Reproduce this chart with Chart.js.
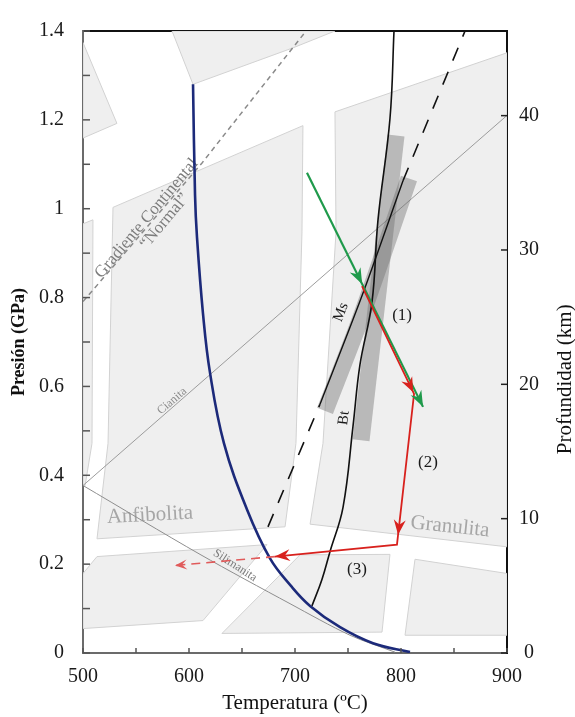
<!DOCTYPE html>
<html>
<head>
<meta charset="utf-8">
<script src="https://cdn.jsdelivr.net/npm/chart.js@4/dist/chart.umd.min.js"></script>
<style>
  html, body { margin: 0; padding: 0; background: #fff; }
  canvas { display: block; }
</style>
</head>
<body>
<canvas id="ptChart" width="575" height="717"></canvas>
<script>
const SERIF = "'Liberation Serif', 'DejaVu Serif', serif";
Chart.defaults.font.family = SERIF;
Chart.defaults.color = '#1a1a1a';

// axis limits
const tempRange = [500, 900];
const presRange = [0, 1.4];
const depthMax = 46.3; // km at 1.4 GPa

// curves, each point is [T (ºC), P (GPa)]
const blueCurve = [[603.8, 1.28], [605.7, 1.03], [607.5, 0.937], [613.2, 0.764], [619.8, 0.631], [633, 0.472],
  [654.7, 0.323], [676.4, 0.213], [696.2, 0.151], [714.2, 0.106], [742.5, 0.058], [773.6, 0.022], [808.5, 0.002]];
const btCurve = [[793.4, 1.4], [789.6, 1.203], [778.3, 0.975], [772.6, 0.789], [761.3, 0.649], [754.7, 0.51],
  [745.3, 0.328], [733, 0.228], [725.5, 0.166], [716, 0.106]];
const msSolid = [[723.6, 0.56], [763.2, 0.804], [801.9, 1.063]];
const msDashLow = [[674.5, 0.284], [723.6, 0.56]];
const msDashHigh = [[801.9, 1.063], [860.4, 1.4]];
const btBand = [[795.3, 1.165], [762.3, 0.479]];
const msBand = [[807.5, 1.068], [761.3, 0.749], [728.3, 0.545]];
const gradientLine = [[500, 0.791], [612.3, 1.103], [710.4, 1.4]];
const cianitaLine = [[500, 0.377], [900, 1.21]];
const silimanitaLine = [[500, 0.377], [610.4, 0.222], [695.3, 0.111], [751.9, 0.04], [794.3, 0.002]];
const greenPath = [[711.3, 1.081], [820.8, 0.554]];
const redPath = [[763.2, 0.826], [812.3, 0.583], [796.2, 0.244], [681.1, 0.217]];
const redDashed = [[681.1, 0.217], [586.8, 0.197]];

// facies fields (grey polygons)
const fieldLeftStrip = [[500, 0.966], [509.4, 0.975], [508.5, 0.472], [502, 0.377], [500, 0.377]];
const fieldTopLeft = [[500, 1.374], [532, 1.192], [500, 1.159]];
const fieldTop = [[584, 1.4], [603.8, 1.28], [698, 1.362], [737.7, 1.4]];
const fieldAnfibolita = [[528.3, 1.003], [707.5, 1.187], [706.6, 0.948], [700.9, 0.472], [690.6, 0.284],
  [513.2, 0.257], [523.6, 0.472]];
const fieldGranulita = [[737.7, 1.218], [900, 1.351], [900, 0.239], [714.2, 0.29], [726.4, 0.472], [738.7, 0.948]];
const fieldLowLeft = [[500, 0.179], [513.2, 0.217], [673.6, 0.244], [613.2, 0.073], [500, 0.055]];
const fieldLowMid = [[631.1, 0.044], [704.7, 0.221], [789.6, 0.222], [782.1, 0.047]];
const fieldLowRight = [[813.2, 0.211], [900, 0.179], [900, 0.04], [803.8, 0.04]];
const fields = [fieldLeftStrip, fieldTopLeft, fieldTop, fieldAnfibolita, fieldGranulita, fieldLowLeft, fieldLowMid, fieldLowRight];

const GREEN = '#1f9a4b';
const RED = '#d8211d';

// text placed in data space
const notes = [
  { text: 'Gradiente Continental', at: [560, 0.978], rot: -50, size: 17, color: '#7c7c7c' },
  { text: '“Normal”', at: [577, 0.972], rot: -50, size: 17, color: '#7c7c7c' },
  { text: 'Cianita', at: [584, 0.567], rot: -41, size: 12, color: '#8a8a8a' },
  { text: 'Silimanita', at: [643.4, 0.197], rot: 33, size: 12, color: '#7a7a7a' },
  { text: 'Anfibolita', at: [563.2, 0.31], rot: -3, size: 21, color: '#a6a6a6' },
  { text: 'Granulita', at: [846.2, 0.284], rot: 6, size: 21, color: '#a6a6a6' },
  { text: 'Ms', at: [743.4, 0.767], rot: -69, size: 15, color: '#1a1a1a' },
  { text: 'Bt', at: [746.2, 0.529], rot: -83, size: 15, color: '#1a1a1a' },
  { text: '(1)', at: [801, 0.76], rot: 0, size: 17, color: '#1a1a1a' },
  { text: '(2)', at: [825.5, 0.428], rot: 0, size: 17, color: '#1a1a1a' },
  { text: '(3)', at: [758.5, 0.188], rot: 0, size: 17, color: '#1a1a1a' }
];

// arrowheads: which path segment and how far along it
const arrowMarks = [
  { path: greenPath, seg: 0, t: 0.476, color: GREEN, len: 16, half: 6 },
  { path: greenPath, seg: 0, t: 1, color: GREEN, len: 16, half: 6 },
  { path: redPath, seg: 0, t: 0.985, color: RED, len: 15, half: 6 },
  { path: redPath, seg: 1, t: 0.935, color: RED, len: 15, half: 6 },
  { path: redPath, seg: 2, t: 1, color: RED, len: 15, half: 6 },
  { path: redDashed, seg: 0, t: 1, color: '#e05a5a', len: 12, half: 5 }
];

const toXY = arr => arr.map(([x, y]) => ({ x, y }));

function lineSet(points, color, width, extra) {
  return Object.assign({
    data: toXY(points),
    showLine: true,
    borderColor: color,
    backgroundColor: color,
    borderWidth: width,
    pointRadius: 0,
    fill: false
  }, extra || {});
}

const faciesFields = {
  id: 'faciesFields',
  beforeDatasetsDraw(chart) {
    const { ctx, chartArea: a, scales: { x, y } } = chart;
    ctx.save();
    ctx.beginPath();
    ctx.rect(a.left, a.top, a.width, a.height);
    ctx.clip();
    ctx.fillStyle = '#efefef';
    ctx.strokeStyle = '#d2d2d2';
    ctx.lineWidth = 1;
    fields.forEach(f => {
      ctx.beginPath();
      f.forEach(([t, p], i) => {
        const px = x.getPixelForValue(t), py = y.getPixelForValue(p);
        if (i) ctx.lineTo(px, py); else ctx.moveTo(px, py);
      });
      ctx.closePath();
      ctx.fill();
      ctx.stroke();
    });
    notes.forEach(n => {
      ctx.save();
      ctx.translate(x.getPixelForValue(n.at[0]), y.getPixelForValue(n.at[1]));
      ctx.rotate(n.rot * Math.PI / 180);
      ctx.font = `${n.size}px ${SERIF}`;
      ctx.fillStyle = n.color;
      ctx.textAlign = 'center';
      ctx.textBaseline = 'middle';
      ctx.fillText(n.text, 0, 0);
      ctx.restore();
    });
    ctx.restore();
  }
};

const arrowHeads = {
  id: 'arrowHeads',
  afterDatasetsDraw(chart) {
    const { ctx, scales: { x, y } } = chart;
    arrowMarks.forEach(m => {
      const a = m.path[m.seg], b = m.path[m.seg + 1];
      const ax = x.getPixelForValue(a[0]), ay = y.getPixelForValue(a[1]);
      const bx = x.getPixelForValue(b[0]), by = y.getPixelForValue(b[1]);
      const tx = ax + (bx - ax) * m.t, ty = ay + (by - ay) * m.t;
      ctx.save();
      ctx.translate(tx, ty);
      ctx.rotate(Math.atan2(by - ay, bx - ax));
      ctx.beginPath();
      ctx.moveTo(0, 0);
      ctx.lineTo(-m.len, -m.half);
      ctx.lineTo(-m.len + 5, 0);
      ctx.lineTo(-m.len, m.half);
      ctx.closePath();
      ctx.fillStyle = m.color;
      ctx.fill();
      ctx.restore();
    });
  }
};

// tick marks point into the plot
const innerTicks = {
  id: 'innerTicks',
  afterDatasetsDraw(chart) {
    const { ctx, chartArea: a, scales } = chart;
    ctx.save();
    ctx.lineWidth = 1.5;
    ctx.strokeStyle = '#555';
    scales.x.ticks.forEach(t => {
      const px = scales.x.getPixelForValue(t.value);
      ctx.beginPath(); ctx.moveTo(px, a.bottom); ctx.lineTo(px, a.bottom - 5); ctx.stroke();
    });
    scales.y.ticks.forEach(t => {
      const py = scales.y.getPixelForValue(t.value);
      ctx.beginPath(); ctx.moveTo(a.left, py); ctx.lineTo(a.left + 7, py); ctx.stroke();
    });
    ctx.strokeStyle = '#222';
    scales.y2.ticks.forEach(t => {
      const py = scales.y2.getPixelForValue(t.value);
      ctx.beginPath(); ctx.moveTo(a.right, py); ctx.lineTo(a.right - 6, py); ctx.stroke();
    });
    ctx.restore();
  },
  afterDraw(chart) {
    // right title reads bottom-to-top like the left one
    const { ctx, chartArea: a } = chart;
    ctx.save();
    ctx.translate(565, (a.top + a.bottom) / 2 + 0.06 * a.height);
    ctx.rotate(-Math.PI / 2);
    ctx.font = `21px ${SERIF}`;
    ctx.fillStyle = '#111';
    ctx.textAlign = 'center';
    ctx.textBaseline = 'middle';
    ctx.fillText('Profundidad (km)', 0, 0);
    ctx.restore();
  }
};

new Chart(document.getElementById('ptChart'), {
  type: 'scatter',
  data: {
    datasets: [
      lineSet(gradientLine, '#8a8a8a', 1.5, { borderDash: [5, 4], order: 9 }),
      lineSet(cianitaLine, '#9c9c9c', 1, { order: 9 }),
      lineSet(silimanitaLine, '#8e8e8e', 1, { order: 9, tension: 0.3 }),
      lineSet(btBand, 'rgba(110,110,110,0.42)', 17, { order: 8, borderCapStyle: 'butt' }),
      lineSet(msBand, 'rgba(110,110,110,0.42)', 17, { order: 8, borderCapStyle: 'butt', tension: 0.3 }),
      lineSet(blueCurve, '#1c2a7a', 2.6, { order: 5, tension: 0.4 }),
      lineSet(btCurve, '#111', 1.6, { order: 4, tension: 0.4 }),
      lineSet(msSolid, '#111', 1.4, { order: 4, tension: 0.3 }),
      lineSet(msDashLow, '#111', 1.6, { order: 4, borderDash: [14, 12] }),
      lineSet(msDashHigh, '#111', 1.6, { order: 4, borderDash: [14, 12] }),
      lineSet(greenPath, GREEN, 2.2, { order: 3 }),
      lineSet(redPath, RED, 1.8, { order: 2 }),
      lineSet(redDashed, '#e05a5a', 1.6, { order: 2, borderDash: [9, 6] })
    ]
  },
  options: {
    responsive: false,
    animation: false,
    layout: { padding: 0 },
    plugins: { legend: { display: false }, tooltip: { enabled: false } },
    scales: {
      x: {
        type: 'linear', position: 'bottom', min: tempRange[0], max: tempRange[1],
        ticks: { stepSize: 50, autoSkip: false, maxRotation: 0, padding: 12, font: { size: 20 },
          callback: v => (v % 100 === 0 ? String(v) : '') },
        grid: { drawOnChartArea: false, drawTicks: false },
        border: { color: '#6b6b6b', width: 2 },
        title: { display: true, text: 'Temperatura (ºC)', font: { size: 21 }, color: '#111', padding: { top: 0, bottom: 1 } },
        afterFit: s => { s.height = 64; }
      },
      x2: {
        type: 'linear', position: 'top', min: tempRange[0], max: tempRange[1],
        ticks: { display: false },
        grid: { drawOnChartArea: false, drawTicks: false },
        border: { color: '#111', width: 2 },
        afterFit: s => { s.height = 21; }
      },
      y: {
        type: 'linear', position: 'left', min: presRange[0], max: presRange[1],
        ticks: { stepSize: 0.1, autoSkip: false, padding: 19, font: { size: 20 },
          callback: v => (Math.round(v * 10) % 2 === 0 ? String(+v.toFixed(1)) : '') },
        grid: { drawOnChartArea: false, drawTicks: false },
        border: { color: '#6b6b6b', width: 2 },
        title: { display: true, text: 'Presión (GPa)', font: { size: 18, weight: 'bold' }, color: '#111', padding: { top: 9, bottom: 0 } },
        afterFit: s => { s.width = 83; }
      },
      y2: {
        type: 'linear', position: 'right', min: 0, max: depthMax,
        ticks: { stepSize: 10, includeBounds: false, autoSkip: false, crossAlign: 'center', padding: 12, font: { size: 20 } },
        grid: { drawOnChartArea: false, drawTicks: false },
        border: { color: '#111', width: 2 },
        afterFit: s => { s.width = 68; }
      }
    }
  },
  plugins: [faciesFields, arrowHeads, innerTicks]
});
</script>
</body>
</html>
